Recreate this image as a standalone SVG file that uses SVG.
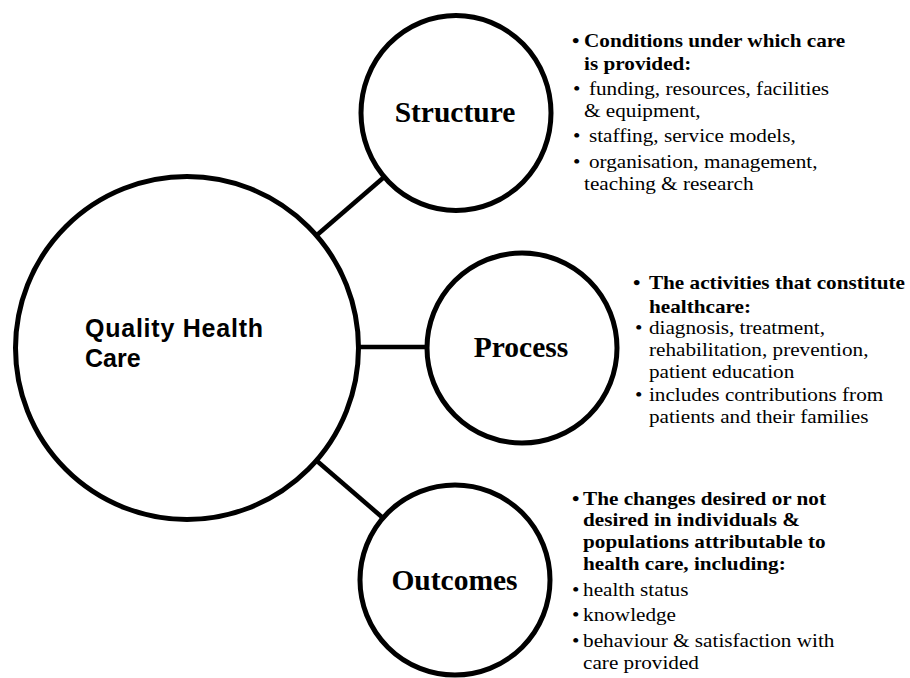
<svg xmlns="http://www.w3.org/2000/svg" width="910" height="678" viewBox="0 0 910 678">
<style>
.node{fill:#fff;stroke:#000;stroke-width:5}
.conn{stroke:#000;stroke-width:4.5;fill:none}
.lbl{font-family:"Liberation Serif","Times New Roman",serif;font-weight:bold;font-size:29.5px;text-anchor:middle;fill:#000}
.main{font-family:"Liberation Sans",Arial,sans-serif;font-weight:bold;font-size:25px;fill:#000}
.t{font-family:"Liberation Serif","Times New Roman",serif;font-size:19.4px;fill:#000}
.b{font-weight:bold}
</style>
<rect width="910" height="678" fill="#fff"/>
<g id="connectors">
<line class="conn" x1="317" y1="235" x2="383" y2="178"/>
<line class="conn" x1="358" y1="347" x2="426" y2="347"/>
<line class="conn" x1="317" y1="461" x2="383" y2="518"/>
</g>
<g id="quality">
<circle class="node" cx="187" cy="348" r="171.5"/>
<text class="main" x="85" y="336.5" textLength="178" lengthAdjust="spacing">Quality Health</text>
<text class="main" x="85" y="366.5">Care</text>
</g>
<g id="structure">
<ellipse class="node" cx="456" cy="113" rx="95" ry="97.5"/>
<text class="lbl" x="455" y="121.5">Structure</text>
</g>
<g id="process">
<circle class="node" cx="522" cy="348" r="95"/>
<text class="lbl" x="521" y="356.5">Process</text>
</g>
<g id="outcomes">
<circle class="node" cx="455" cy="580" r="95"/>
<text class="lbl" x="454.5" y="590">Outcomes</text>
</g>
<g id="structure-notes" class="t" transform="matrix(1.093,0,0,1,-53.29,0)">
<text class="b" x="572" y="47.5">•</text>
<text class="b" x="583.1" y="47.5">Conditions under which care</text>
<text class="b" x="583.1" y="70">is provided:</text>
<text x="573" y="95">•</text>
<text x="587.6" y="95">funding, resources, facilities</text>
<text x="583.1" y="117">&amp; equipment,</text>
<text x="573" y="142.5">•</text>
<text x="587.6" y="142.5">staffing, service models,</text>
<text x="573" y="168">•</text>
<text x="587.6" y="168">organisation, management,</text>
<text x="583.1" y="190">teaching &amp; research</text>
</g>
<g id="process-notes" class="t" transform="matrix(1.093,0,0,1,-58.87,0)">
<text class="b" x="633" y="289.5">•</text>
<text class="b" x="647.6" y="289.5">The activities that constitute</text>
<text class="b" x="647.6" y="313">healthcare:</text>
<text x="634.8" y="334">•</text>
<text x="647.6" y="334">diagnosis, treatment,</text>
<text x="647.6" y="356.5">rehabilitation, prevention,</text>
<text x="647.6" y="378">patient education</text>
<text x="634.8" y="401.5">•</text>
<text x="647.6" y="401.5">includes contributions from</text>
<text x="647.6" y="423.5">patients and their families</text>
</g>
<g id="outcomes-notes" class="t" transform="matrix(1.093,0,0,1,-53.2,0)">
<text class="b" x="572" y="505">•</text>
<text class="b" x="582.1" y="505">The changes desired or not</text>
<text class="b" x="582.1" y="526.5">desired in individuals &amp;</text>
<text class="b" x="582.1" y="548.5">populations attributable to</text>
<text class="b" x="582.1" y="570">health care, including:</text>
<text x="572" y="596.5">•</text>
<text x="582.1" y="596.5">health status</text>
<text x="572" y="621.5">•</text>
<text x="582.1" y="621.5">knowledge</text>
<text x="572" y="647.5">•</text>
<text x="582.1" y="647.5">behaviour &amp; satisfaction with</text>
<text x="582.1" y="669.5">care provided</text>
</g>
</svg>
